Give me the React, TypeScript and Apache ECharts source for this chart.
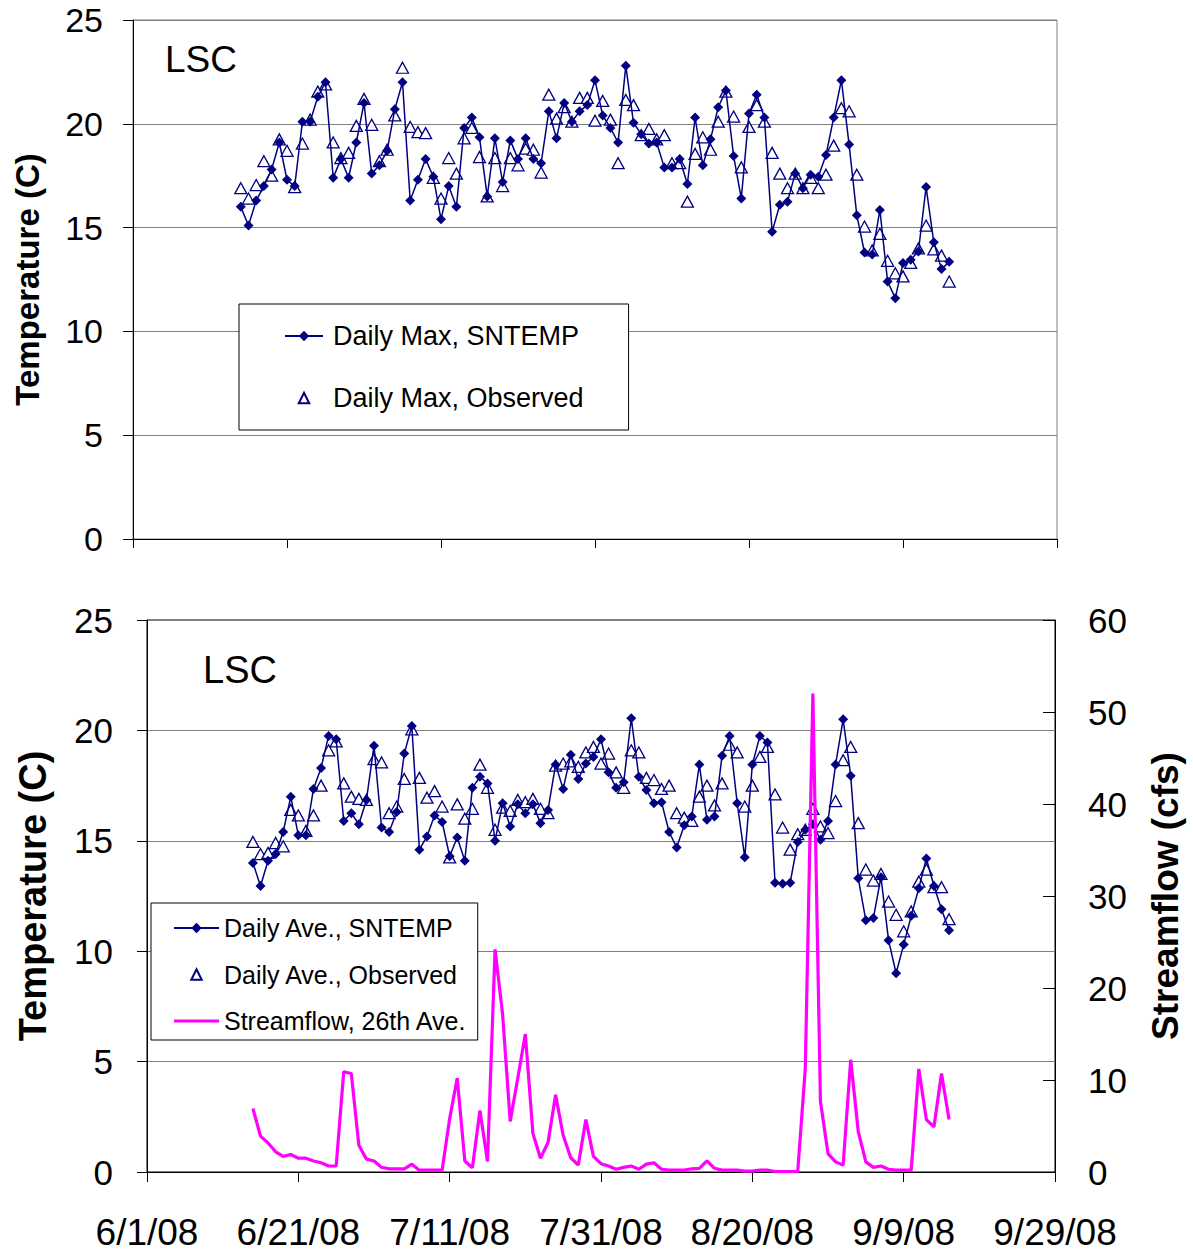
import React, { useEffect, useRef } from "react";
import * as echarts from "echarts";

// ---------- DATA ----------
const axisStartDate = "2008-06-01";
const firstDataDate = "2008-06-15";
const dateTickLabels = ["6/1/08", "6/21/08", "7/11/08", "7/31/08", "8/20/08", "9/9/08", "9/29/08"];
const siteLabel = "LSC";

const maxSntemp = [
  16.0, 15.1, 16.3, 17.0, 17.8, 19.1, 17.3, 17.0, 20.1, 20.1, 21.3, 22.0, 17.4, 18.3, 17.4, 19.1, 21.0, 17.6, 18.0, 18.7,
  20.7, 22.0, 16.3, 17.3, 18.3, 17.45, 15.4, 17.0, 16.0, 19.8, 20.3, 19.35, 16.5, 19.3, 17.2, 19.2, 18.3, 19.3, 18.3, 18.1,
  20.6, 19.3, 21.0, 20.1, 20.6, 20.9, 22.1, 20.4, 19.8, 19.1, 22.8, 20.05, 19.5, 19.05, 19.1, 17.9, 17.9, 18.3, 17.1, 20.3,
  18.0, 19.25, 20.8, 21.6, 18.45, 16.4, 20.5, 21.4, 20.3, 14.8, 16.1, 16.25, 17.6, 16.9, 17.55, 17.45, 18.5, 20.3, 22.1, 19.0,
  15.6, 13.8, 13.7, 15.85, 12.4, 11.6, 13.3, 13.45, 13.85, 16.95, 14.3, 13.0, 13.35,
];
const maxObserved = [
  16.9, 16.4, 17.05, 18.2, 17.5, 19.25, 18.7, 16.95, 19.05, 20.2, 21.55, 21.9, 19.1, 18.35, 18.6, 19.9, 21.2, 19.95, 18.2, 18.75,
  20.4, 22.7, 19.85, 19.6, 19.55, 17.4, 16.4, 18.35, 17.6, 19.3, 19.8, 18.4, 16.5, 18.35, 17.0, 18.35, 18.0, 18.8, 18.75, 17.65,
  21.4, 20.25, 20.8, 20.1, 21.25, 21.25, 20.15, 21.1, 20.2, 18.1, 21.15, 20.9, 19.45, 19.75, 19.25, 19.45, 18.1, 18.1, 16.25, 18.55,
  19.35, 18.75, 20.1, 21.55, 20.35, 17.9, 19.85, 20.9, 20.1, 18.6, 17.6, 16.9, 17.6, 16.9, 17.4, 16.9, 17.55, 18.95, 20.75, 20.6,
  17.55, 15.05, 13.9, 14.7, 13.4, 12.8, 12.65, 13.3, 14.0, 15.1, 13.95, 13.65, 12.4,
];
const aveSntemp = [
  14.0, 12.95, 14.1, 14.4, 15.4, 17.0, 15.25, 15.25, 17.35, 18.3, 19.75, 19.6, 15.9, 16.25, 15.75, 16.85, 19.3, 15.6, 15.4, 16.3,
  18.95, 20.2, 14.6, 15.2, 16.15, 15.85, 14.3, 15.15, 14.1, 17.4, 17.9, 17.6, 15.0, 16.7, 15.65, 16.65, 16.25, 16.65, 15.8, 16.4,
  18.45, 17.35, 18.9, 17.8, 18.5, 18.8, 19.6, 18.1, 17.4, 17.65, 20.55, 17.9, 17.3, 16.7, 16.75, 15.4, 14.7, 15.7, 16.1, 18.45,
  15.95, 16.1, 18.85, 19.75, 16.7, 14.25, 18.45, 19.75, 19.45, 13.1, 13.05, 13.1, 14.95, 15.5, 15.75, 15.05, 15.9, 18.45, 20.5, 17.95,
  13.3, 11.4, 11.5, 13.35, 10.5, 9.0, 10.3, 11.6, 12.85, 14.2, 12.95, 11.9, 10.95,
];
const aveObserved = [
  14.95, 14.4, 14.45, 14.9, 14.75, 16.4, 16.15, 15.45, 16.15, 17.5, 19.1, 19.5, 17.6, 17.0, 16.9, 16.85, 18.7, 18.55, 16.25, 16.55,
  17.8, 20.05, 17.85, 16.95, 17.25, 16.55, 14.25, 16.65, 16.0, 16.45, 18.45, 17.4, 15.5, 16.5, 16.35, 16.85, 16.75, 16.9, 16.45, 16.25,
  18.4, 18.5, 18.6, 18.35, 19.0, 19.25, 18.5, 18.95, 18.1, 17.4, 19.1, 19.0, 17.85, 17.75, 17.35, 17.5, 16.25, 16.05, 15.9, 17.0,
  17.5, 16.6, 17.6, 19.35, 19.0, 16.55, 17.5, 18.8, 19.25, 17.1, 15.6, 14.6, 15.3, 15.5, 16.45, 15.65, 15.35, 16.8, 18.65, 19.25,
  15.8, 13.7, 13.2, 13.5, 12.25, 11.65, 10.9, 11.8, 13.15, 13.7, 12.9, 12.9, 11.45,
];
const streamflow = [
  6.9, 3.9, 3.15, 2.2, 1.7, 1.9, 1.5, 1.5, 1.2, 1.0, 0.65, 0.65, 10.9, 10.7, 2.9, 1.4, 1.2, 0.5, 0.35, 0.35,
  0.35, 0.85, 0.2, 0.2, 0.2, 0.2, 5.8, 10.2, 1.2, 0.45, 6.7, 1.15, 24.2, 17.1, 5.5, 10.2, 15.0, 4.2, 1.5, 3.2,
  8.4, 4.0, 1.55, 0.75, 5.7, 1.7, 0.9, 0.65, 0.3, 0.5, 0.65, 0.3, 0.85, 1.0, 0.3, 0.2, 0.2, 0.2, 0.35, 0.4,
  1.2, 0.4, 0.2, 0.2, 0.2, 0.1, 0.1, 0.2, 0.2, 0.05, 0.05, 0.05, 0.05, 11.3, 52.0, 7.7, 2.0, 1.1, 0.75, 12.2,
  4.4, 1.1, 0.5, 0.65, 0.3, 0.2, 0.2, 0.2, 11.2, 5.7, 4.9, 10.7, 5.7,
];

// ---------- HELPERS ----------
const DAY_MS = 86400000;
const firstOffset = Math.round((Date.parse(firstDataDate) - Date.parse(axisStartDate)) / DAY_MS);
const toPairs = (arr: number[]) => arr.map((v, i) => [firstOffset + i, v]);
const dateFormatter = (v: number) => dateTickLabels[Math.round(v / 20)] ?? "";

const FONT = "'Liberation Sans', Arial, Helvetica, sans-serif";
const NAVY = "#000080";
const MAGENTA = "#FF00FF";
const GRID_GRAY = "#808080";

const option: any = {
  animation: false,
  backgroundColor: "#fff",
  textStyle: { fontFamily: FONT },
  grid: [
    { left: 133, top: 20, width: 924, height: 519, show: true, borderColor: GRID_GRAY, borderWidth: 1, backgroundColor: "#fff" },
    { left: 147, top: 620, width: 908, height: 552, show: true, borderColor: "#000", borderWidth: 1, backgroundColor: "#fff" },
  ],
  xAxis: [
    {
      gridIndex: 0, type: "value", min: 0, max: 120, interval: 20,
      axisLine: { show: true, lineStyle: { color: "#000", width: 1 } },
      axisTick: { show: true, length: 9, lineStyle: { color: "#000" } },
      axisLabel: { show: false },
      splitLine: { show: false },
    },
    {
      gridIndex: 1, type: "value", min: 0, max: 120, interval: 20,
      axisLine: { show: true, lineStyle: { color: "#000", width: 1 } },
      axisTick: { show: true, length: 10, lineStyle: { color: "#000" } },
      axisLabel: { show: true, formatter: dateFormatter, fontSize: 37, color: "#000", fontFamily: FONT, margin: 42 },
      splitLine: { show: false },
    },
  ],
  yAxis: [
    {
      gridIndex: 0, type: "value", min: 0, max: 25, interval: 5,
      name: "Temperature (C)", nameLocation: "middle", nameRotate: 90, nameGap: 89,
      nameTextStyle: { fontSize: 33, fontWeight: "bold", color: "#000", fontFamily: FONT },
      axisLine: { show: true, lineStyle: { color: "#000" } },
      axisTick: { show: true, length: 10, lineStyle: { color: "#000" } },
      axisLabel: { fontSize: 34, color: "#000", margin: 30, fontFamily: FONT },
      splitLine: { show: true, lineStyle: { color: GRID_GRAY, width: 1 } },
    },
    {
      gridIndex: 1, type: "value", min: 0, max: 25, interval: 5,
      name: "Temperature (C)", nameLocation: "middle", nameRotate: 90, nameGap: 95,
      nameTextStyle: { fontSize: 38, fontWeight: "bold", color: "#000", fontFamily: FONT },
      axisLine: { show: true, lineStyle: { color: "#000" } },
      axisTick: { show: true, length: 10, lineStyle: { color: "#000" } },
      axisLabel: { fontSize: 35, color: "#000", margin: 34, fontFamily: FONT },
      splitLine: { show: true, lineStyle: { color: GRID_GRAY, width: 1 } },
    },
    {
      gridIndex: 1, type: "value", position: "right", min: 0, max: 60, interval: 10,
      name: "Streamflow (cfs)", nameLocation: "middle", nameRotate: 90, nameGap: 92,
      nameTextStyle: { fontSize: 37, fontWeight: "bold", color: "#000", fontFamily: FONT },
      axisLine: { show: true, lineStyle: { color: "#000" } },
      axisTick: { show: true, inside: true, length: 12, lineStyle: { color: "#000" } },
      axisLabel: { fontSize: 35, color: "#000", margin: 33, fontFamily: FONT },
      splitLine: { show: false },
    },
  ],
  legend: [
    {
      orient: "vertical", left: 239, top: 304,
      data: ["Daily Max, SNTEMP", "Daily Max, Observed"],
      itemWidth: 38, itemHeight: 13, itemGap: 32,
      padding: [17, 45, 17, 45],
      borderColor: "#000", borderWidth: 1, backgroundColor: "#fff",
      textStyle: { fontSize: 27, color: "#000", lineHeight: 30, padding: [0, 0, 0, 5], fontFamily: FONT },
    },
    {
      orient: "vertical", left: 151, top: 903,
      data: [
        "Daily Ave., SNTEMP",
        "Daily Ave., Observed",
        { name: "Streamflow, 26th Ave.", icon: "path://M0,0H45V3H0Z" },
      ],
      itemWidth: 45, itemHeight: 13, itemGap: 20.5,
      padding: [12, 11, 6, 22],
      borderColor: "#000", borderWidth: 1, backgroundColor: "#fff",
      textStyle: { fontSize: 25, color: "#000", lineHeight: 26, fontFamily: FONT },
    },
  ],
  graphic: [
    { type: "text", left: 165, top: 41, style: { text: siteLabel, font: `37px ${FONT}`, fill: "#000" } },
    { type: "text", left: 203, top: 651, style: { text: siteLabel, font: `38px ${FONT}`, fill: "#000" } },
  ],
  series: [
    {
      name: "Daily Max, Observed", type: "line", xAxisIndex: 0, yAxisIndex: 0,
      data: toPairs(maxObserved),
      symbol: "triangle", symbolSize: [12, 11], showSymbol: true,
      lineStyle: { width: 0, opacity: 0 },
      itemStyle: { color: "#fff", borderColor: NAVY, borderWidth: 1.3 },
      z: 2,
    },
    {
      name: "Daily Max, SNTEMP", type: "line", xAxisIndex: 0, yAxisIndex: 0,
      data: toPairs(maxSntemp),
      symbol: "diamond", symbolSize: 10, showSymbol: true,
      lineStyle: { width: 1.5, color: NAVY },
      itemStyle: { color: NAVY, borderWidth: 0 },
      z: 3,
    },
    {
      name: "Daily Ave., Observed", type: "line", xAxisIndex: 1, yAxisIndex: 1,
      data: toPairs(aveObserved),
      symbol: "triangle", symbolSize: [12, 11], showSymbol: true,
      lineStyle: { width: 0, opacity: 0 },
      itemStyle: { color: "#fff", borderColor: NAVY, borderWidth: 1.3 },
      z: 2,
    },
    {
      name: "Daily Ave., SNTEMP", type: "line", xAxisIndex: 1, yAxisIndex: 1,
      data: toPairs(aveSntemp),
      symbol: "diamond", symbolSize: 10, showSymbol: true,
      lineStyle: { width: 1.5, color: NAVY },
      itemStyle: { color: NAVY, borderWidth: 0 },
      z: 3,
    },
    {
      name: "Streamflow, 26th Ave.", type: "line", xAxisIndex: 1, yAxisIndex: 2,
      data: toPairs(streamflow),
      symbol: "none", showSymbol: false,
      lineStyle: { width: 3.2, color: MAGENTA },
      itemStyle: { color: MAGENTA },
      z: 4,
    },
  ],
};

export default function App() {
  const ref = useRef<HTMLDivElement>(null);
  useEffect(() => {
    document.body.style.margin = "0";
    const chart = echarts.init(ref.current as HTMLDivElement, null, { renderer: "svg" });
    chart.setOption(option);
    return () => chart.dispose();
  }, []);
  return <div ref={ref} style={{ width: 1193, height: 1254 }} />;
}
